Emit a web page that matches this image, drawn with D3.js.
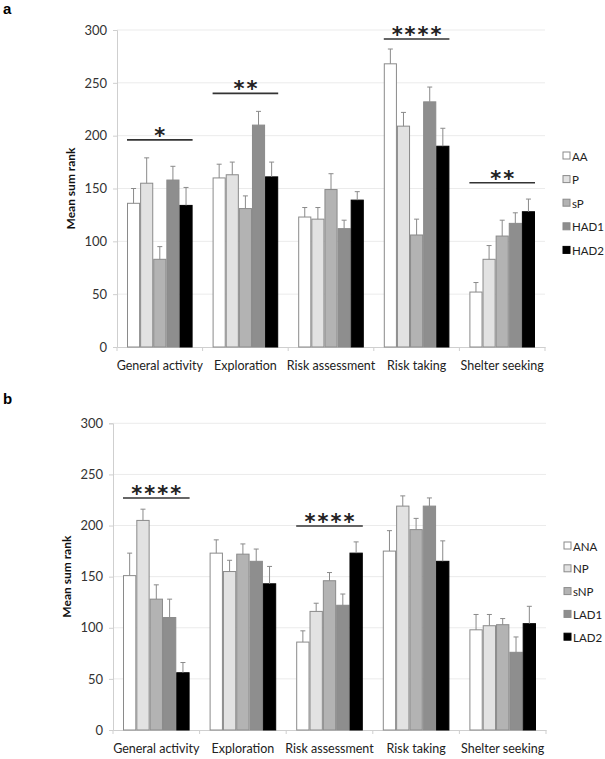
<!DOCTYPE html>
<html><head><meta charset="utf-8">
<script src="https://cdn.jsdelivr.net/npm/d3@7"></script>
<style>
body{margin:0;background:#fff;}
text{font-family:Lato,"Open Sans",sans-serif;}
</style></head>
<body>
<svg id="chart" width="605" height="759"></svg>
<script>
const categories = ["General activity","Exploration","Risk assessment","Risk taking","Shelter seeking"];
const yTicks = [0,50,100,150,200,250,300];

const groupsA = ["AA","P","sP","HAD1","HAD2"];
const meanAA   = [136,160,123,268,52];
const meanP    = [155,163,121,209,83];
const meanSP   = [83,131,149,106,105];
const meanHAD1 = [158,210,112,232,117];
const meanHAD2 = [134,161,139,190,128];
const errAA   = [14,13,9,14,9];
const errP    = [24,12,11,13,13];
const errSP   = [12,12,15,15,15];
const errHAD1 = [13,13,8,14,10];
const errHAD2 = [17,14,8,17,12];
const sigA = [{cat:0,label:"*",level:196},{cat:1,label:"**",level:240},{cat:3,label:"****",level:291.5},{cat:4,label:"**",level:155.5}];

const groupsB = ["ANA","NP","sNP","LAD1","LAD2"];
const meanANA  = [151,173,86,175,98];
const meanNP   = [205,155,116,219,102];
const meanSNP  = [128,172,146,196,103];
const meanLAD1 = [110,165,122,219,76];
const meanLAD2 = [56,143,173,165,104];
const errANA  = [22,13,11,20,15];
const errNP   = [11,11,8,10,11];
const errSNP  = [14,10,8,11,6];
const errLAD1 = [18,12,11,8,15];
const errLAD2 = [10,17,11,20,17];
const sigB = [{cat:0,label:"****",level:227},{cat:2,label:"****",level:199.6}];

const fills = ["#ffffff","#e2e2e2","#b3b3b3","#8e8e8e","#000000"];

const svg = d3.select("#chart");

function panel(opt){
  const g = svg.append("g");
  const x = d3.scaleBand().domain(categories).range([opt.left,opt.right]).paddingInner(0).paddingOuter(0);
  const x1 = d3.scaleBand().domain(opt.groups).range([10, x.bandwidth()-10]).padding(0);
  const y = d3.scaleLinear().domain([0,300]).range([opt.bottom,opt.top]);

  g.append("g").selectAll("line").data(yTicks.filter(d=>d>0)).join("line")
    .attr("x1",opt.left).attr("x2",opt.right)
    .attr("y1",d=>y(d)).attr("y2",d=>y(d))
    .attr("stroke","#ebebeb").attr("stroke-width",1);

  const ya = g.append("g").attr("transform",`translate(${opt.left},0)`)
    .call(d3.axisLeft(y).tickValues(yTicks).tickSize(4).tickPadding(6));
  ya.select(".domain").attr("stroke","#cfcfcf");
  ya.selectAll(".tick line").attr("stroke","#cfcfcf");
  ya.selectAll("text").attr("font-size",13).attr("fill","#333").style("font-family","Lato, 'Open Sans', sans-serif");

  const xa = g.append("g").attr("transform",`translate(0,${opt.bottom})`)
    .call(d3.axisBottom(x).tickSize(0).tickPadding(14));
  xa.select(".domain").attr("stroke","#cfcfcf");
  xa.selectAll("text").attr("font-size",12.5).attr("fill","#222").style("font-family","Lato, 'Open Sans', sans-serif");
  g.append("g").selectAll("line").data(categories.map((c,i)=>i).concat([categories.length])).join("line")
    .attr("x1",d=>d<categories.length? x(categories[d]) : opt.right)
    .attr("x2",d=>d<categories.length? x(categories[d]) : opt.right)
    .attr("y1",opt.bottom).attr("y2",opt.bottom+4).attr("stroke","#cfcfcf");

  opt.groups.forEach((grp,gi)=>{
    const gg = g.append("g");
    const data = categories.map((c,ci)=>({c, v:opt.means[gi][ci], e:opt.errs[gi][ci]}));
    gg.selectAll("rect").data(data).join("rect")
      .attr("x",d=>x(d.c)+x1(grp)+0.5)
      .attr("y",d=>y(d.v))
      .attr("width",x1.bandwidth()-1)
      .attr("height",d=>y(0)-y(d.v))
      .attr("fill",fills[gi])
      .attr("stroke", gi===4? "#000" : "#8a8a8a").attr("stroke-width",1);
    const cx = d=>x(d.c)+x1(grp)+x1.bandwidth()/2;
    gg.selectAll("line.eb").data(data).join("line").attr("class","eb")
      .attr("x1",cx).attr("x2",cx).attr("y1",d=>y(d.v)).attr("y2",d=>y(d.v+d.e))
      .attr("stroke","#8a8a8a").attr("stroke-width",1);
    gg.selectAll("line.cap").data(data).join("line").attr("class","cap")
      .attr("x1",d=>cx(d)-2.5).attr("x2",d=>cx(d)+2.5).attr("y1",d=>y(d.v+d.e)).attr("y2",d=>y(d.v+d.e))
      .attr("stroke","#8a8a8a").attr("stroke-width",1);
  });

  opt.sig.forEach(s=>{
    const c = categories[s.cat];
    const x0 = x(c)+x1.range()[0], x2 = x(c)+x1.range()[1];
    g.append("line").attr("x1",x0).attr("x2",x2).attr("y1",y(s.level)).attr("y2",y(s.level))
      .attr("stroke","#333").attr("stroke-width",1.6);
    g.append("text").attr("x",(x0+x2)/2 + 1).attr("y",y(s.level)+3)
      .attr("text-anchor","middle").attr("font-size",21).attr("letter-spacing",2)
      .style("font-family","'DejaVu Sans', sans-serif").attr("font-weight","bold").attr("fill","#222").text(s.label);
  });

  g.append("text").attr("transform",`translate(${opt.labelX},${(opt.top+opt.bottom)/2}) rotate(-90)`)
    .attr("text-anchor","middle").attr("font-size",12).attr("font-weight","bold").attr("fill","#111")
    .text("Mean sum rank");

  g.append("text").attr("x",3).attr("y",opt.letterY).attr("font-size",15).attr("font-weight","bold")
    .style("font-family","'Liberation Sans', Arial, sans-serif").text(opt.letter);

  const lg = g.append("g");
  opt.groups.forEach((grp,gi)=>{
    const ly = opt.legendY + gi*opt.legendStep;
    lg.append("rect").attr("x",opt.legendX).attr("y",ly-4).attr("width",7).attr("height",7)
      .attr("fill",fills[gi]).attr("stroke",gi===4?"#000":"#8a8a8a");
    lg.append("text").attr("x",opt.legendX+9).attr("y",ly+4.5).attr("font-size",11.5).attr("fill","#222").text(grp);
  });
}

panel({left:117,right:545,top:30,bottom:347,groups:groupsA,
  means:[meanAA,meanP,meanSP,meanHAD1,meanHAD2],errs:[errAA,errP,errSP,errHAD1,errHAD2],
  sig:sigA,labelX:75,letter:"a",letterY:14,legendX:563,legendY:156,legendStep:23.6});
panel({left:113,right:546,top:423.3,bottom:730,groups:groupsB,
  means:[meanANA,meanNP,meanSNP,meanLAD1,meanLAD2],errs:[errANA,errNP,errSNP,errLAD1,errLAD2],
  sig:sigB,labelX:71,letter:"b",letterY:404,legendX:564,legendY:546,legendStep:22.8});
</script>
</body></html>
